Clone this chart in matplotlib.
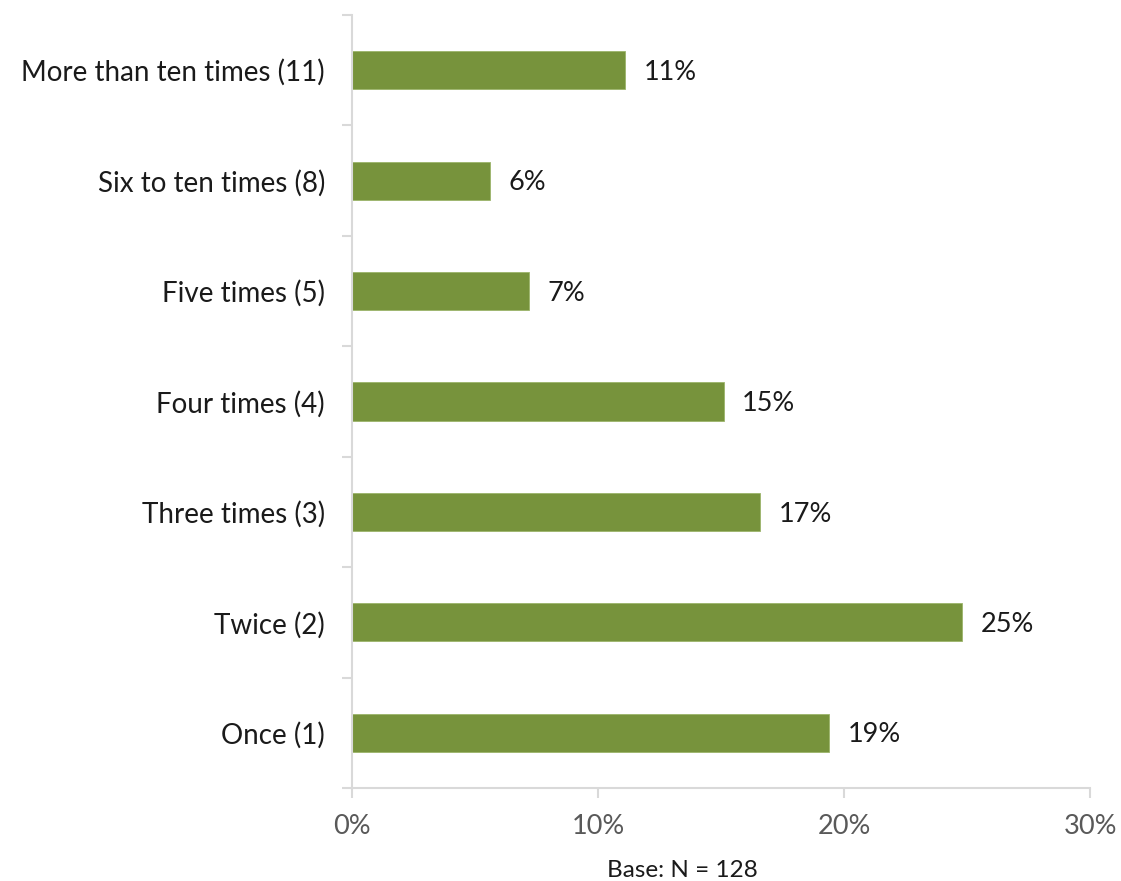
import numpy as np
import matplotlib.pyplot as plt
from matplotlib.ticker import PercentFormatter

plt.rcParams['font.family'] = ['Lato', 'DejaVu Sans']

categories = ['Once (1)', 'Twice (2)', 'Three times (3)', 'Four times (4)',
              'Five times (5)', 'Six to ten times (8)', 'More than ten times (11)']
shares = [19.4, 24.8, 16.6, 15.1, 7.2, 5.6, 11.1]

bar_color = '#77933C'
axis_color = '#D9D9D9'

fig = plt.figure(figsize=(11.21, 8.81), dpi=100)
ax = fig.add_axes([0.314, 0.1056, 0.6585, 0.8774])

y = np.arange(len(categories))
bars = ax.barh(y, shares, height=0.345, color=bar_color, edgecolor='#9BB46A', linewidth=0.6)

for yi, v in zip(y, shares):
    ax.text(v + 0.75, yi - 0.02, f'{v:.0f}%', va='center', ha='left', fontsize=19.5, color='#1a1a1a')

ax.set_xlim(0, 30)
ax.set_ylim(-0.5, len(categories) - 0.5)
ax.set_xticks([0, 10, 20, 30])
ax.xaxis.set_major_formatter(PercentFormatter(decimals=0))
ax.set_yticks(y)
ax.set_yticklabels(categories)
ax.set_yticks(np.arange(-0.5, len(categories)), minor=True)

ax.tick_params(axis='y', which='major', length=0, pad=19.5, labelsize=20, labelcolor='#1a1a1a')
ax.tick_params(axis='y', which='minor', length=7, width=1.5, color=axis_color)
ax.tick_params(axis='x', length=7, width=1.5, color=axis_color, pad=11.5,
               labelsize=19.5, labelcolor='#595959')

for side in ['top', 'right']:
    ax.spines[side].set_visible(False)
for side in ['left', 'bottom']:
    ax.spines[side].set_color(axis_color)
    ax.spines[side].set_linewidth(1.5)

fig.text(0.609, 0.005, 'Base: N = 128', ha='center', va='baseline', fontsize=17.5, color='#1a1a1a')

fig.savefig('out.png', dpi=100)
